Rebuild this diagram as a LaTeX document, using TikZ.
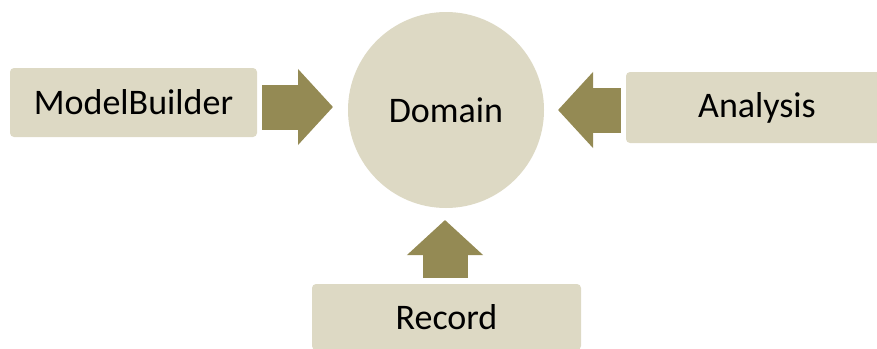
\documentclass[tikz,border=0pt]{standalone}
\usepackage{fontspec}
\setmainfont{Carlito}
\usetikzlibrary{arrows.meta}
\definecolor{partfill}{HTML}{DDD9C4}
\definecolor{feedolive}{HTML}{948A54}
\tikzset{
  part/.style={fill=partfill, rounded corners=4pt, inner sep=0pt,
               font=\fontsize{36}{40}\selectfont},
  hub/.style={circle, fill=partfill, inner sep=0pt, minimum size=196pt,
              font=\fontsize{36}{40}\selectfont},
  feed/.style={draw=feedolive, line width=45pt,
               -{Triangle[length=35pt, width=74pt]}},
}

\begin{document}
\begin{tikzpicture}[x=1pt, y=-1pt]
    \useasboundingbox (0,0) rectangle (877,348);
    \clip (0,0) rectangle (877,348);
    \node[hub] (dom) at (446,110) {Domain};
    \node[part, minimum width=247pt, minimum height=69pt] (mb) at (133.5,102.5) {ModelBuilder};
    \node[part, minimum width=262pt, minimum height=71pt] (an) at (757,107.5) {Analysis};
    \node[part, minimum width=269pt, minimum height=66pt] (rec) at (446.5,317) {Record};
    \coordinate (mbout) at (262,107);
    \coordinate (mbin) at (333,107);
    \coordinate (anout) at (621,110);
    \coordinate (anin) at (558,110);
    \coordinate (recout) at (445,278);
    \coordinate (recin) at (445,220);
    \draw[feed] (mbout) -- (mbin);
    \draw[feed] (anout) -- (anin);
    \draw[feed] (recout) -- (recin);
  \end{tikzpicture}
\end{document}
